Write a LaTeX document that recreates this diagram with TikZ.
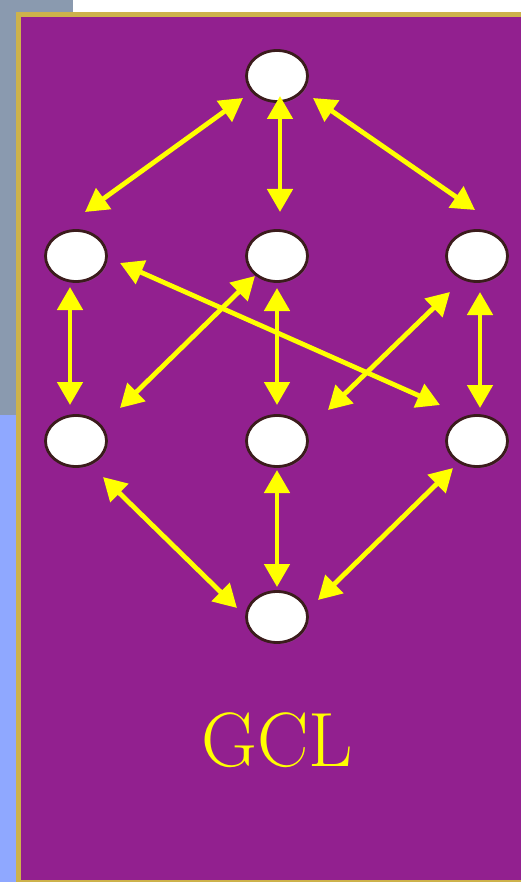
\documentclass[tikz,border=0pt]{standalone}
\usetikzlibrary{positioning,shapes.geometric,arrows.meta,shadows,calc}
\definecolor{panelpurple}{RGB}{146,32,143}
\definecolor{panelgold}{RGB}{205,178,75}
\definecolor{slategray}{RGB}{138,154,175}
\definecolor{paleblue}{RGB}{143,168,255}
\definecolor{nodeedge}{RGB}{59,28,28}
\definecolor{linkyellow}{RGB}{255,255,0}
\begin{document}
\begin{tikzpicture}[x=1pt, y=-1pt, on grid,
    main/.style = {draw=nodeedge, line width=2.8pt, fill=white, ellipse, minimum width=61pt, minimum height=51pt,
        drop shadow={opacity=0.3, shadow xshift=1.5pt, shadow yshift=-1.5pt}},
    link/.style = {draw=linkyellow, line width=4.8pt, {Triangle[length=23pt,width=25pt]}-{Triangle[length=23pt,width=25pt]}}]
    % backdrop and panel
    \useasboundingbox (0,0) rectangle (521,882);
    \fill[white] (0,0) rectangle (521,882);
    \fill[slategray] (0,0) rectangle (73,415);
    \fill[paleblue] (0,415) rectangle (16,882);
    \fill[panelgold] (16,12) rectangle (530,882);
    \fill[panelpurple] (21,17) rectangle (530,880);
    % nodes
    \node[main] (T) at (277,76) {};
    \node[main] (A) [below left=180pt and 201pt of T] {};
    \node[main] (B) [below=180pt of T] {};
    \node[main] (C) [below right=180pt and 200pt of T] {};
    \node[main] (D) [below=185pt of A] {};
    \node[main] (E) [below=185pt of B] {};
    \node[main] (F) [below=185pt of C] {};
    \node[main] (G) [below=176pt of E] {};
    \node[text=linkyellow, font=\fontsize{77}{77}\selectfont] (gcl) [below=123pt of G] {GCL};
    % links
    \draw[link] ($(T)+(-34,22)$) -- ($(A)+(9,-44)$);
    \draw[link] ($(T)+(3,20)$) -- ($(B)+(3,-44)$);
    \draw[link] ($(T)+(36,22)$) -- ($(C)+(-2,-46)$);
    \draw[link] ($(A)+(-6,31)$) -- ($(D)+(-6,-36)$);
    \draw[link] ($(B)+(-22,20)$) -- ($(D)+(44,-33)$);
    \draw[link] ($(A)+(44,7)$) -- ($(F)+(-37,-36)$);
    \draw[link] ($(B)+(0,32)$) -- ($(E)+(0,-36)$);
    \draw[link] ($(C)+(-27,36)$) -- ($(E)+(51,-31)$);
    \draw[link] ($(C)+(3,36)$) -- ($(F)+(3,-33)$);
    \draw[link] ($(D)+(27,36)$) -- ($(G)+(-40,-9)$);
    \draw[link] ($(E)+(0,29)$) -- ($(G)+(0,-30)$);
    \draw[link] ($(F)+(-24,27)$) -- ($(G)+(41,-17)$);
\end{tikzpicture}
\end{document}
